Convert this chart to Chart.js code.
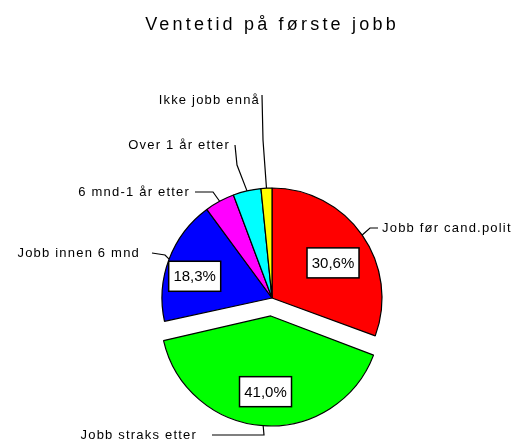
<!DOCTYPE html>
<html>
<head>
<meta charset="utf-8">
<script src="https://cdn.jsdelivr.net/npm/chart.js@4/dist/chart.umd.min.js"></script>
<style>
  html, body { margin: 0; padding: 0; background: #fff; }
  #wrap { width: 518px; height: 443px; }
</style>
</head>
<body>
<div id="wrap"><canvas id="pieChart"></canvas></div>
<script>
// data (percent)
const categories = ['Jobb før cand.polit', 'Jobb straks etter', 'Jobb innen 6 mnd',
                    '6 mnd-1 år etter', 'Over 1 år etter', 'Ikke jobb ennå'];
const shares = [30.6, 41.0, 18.3, 4.4, 4.1, 1.6];
const sliceColors = ['#ff0000', '#00ff00', '#0000ff', '#ff00ff', '#00ffff', '#ffff00'];
const shownPercent = [true, true, true, false, false, false];
const chartTitle = 'Ventetid på første jobb';

// where the outside labels sit and the bends of their leader lines
const labelLayout = [
    { x: 382, y: 228, align: 'left',  line: [[378, 228], [370, 228]] },
    { x: 197, y: 435, align: 'right', line: [[212, 435], [264, 435]] },
    { x: 140, y: 253, align: 'right', line: [[152, 253], [165, 255]] },
    { x: 190, y: 192, align: 'right', line: [[195, 192], [213, 192]] },
    { x: 230, y: 145, align: 'right', line: [[235, 145], [237, 165]] },
    { x: 260, y: 100, align: 'right', line: [[262, 95], [263, 140]] }
];
// percent boxes: fraction of radius and angle nudge (degrees)
const boxLayout = [[0.64, 5], [0.69, 0], [0.73, -5], null, null, null];

const pieRadius = 110;
const pieOffset = 18;

const labelPlugin = {
    id: 'pieLabels',
    // chart.js grows an offset slice a little; keep the exploded slice the same size
    afterDatasetUpdate(chart, args) {
        const offs = chart.data.datasets[args.index].offset;
        args.meta.data.forEach((arc, i) => {
            const o = (offs[i] || 0) / 4;
            if (!o) return;
            const circ = arc.circumference;
            const fix = 1 - Math.sin(Math.min(Math.PI, circ));
            arc.outerRadius = pieRadius - o * fix;
        });
    },
    afterDraw(chart) {
        const ctx = chart.ctx;
        const meta = chart.getDatasetMeta(0);

        // title
        ctx.save();
        ctx.fillStyle = '#000';
        ctx.font = '18px "Liberation Sans", Arial, sans-serif';
        ctx.letterSpacing = '3.2px';
        ctx.textAlign = 'center';
        ctx.textBaseline = 'middle';
        ctx.fillText(chartTitle, 272, 25);
        ctx.restore();

        meta.data.forEach((arc, i) => {
            const p = arc.getProps(['x', 'y', 'startAngle', 'endAngle'], true);
            const mid = (p.startAngle + p.endAngle) / 2;
            const off = (chart.data.datasets[0].offset[i] || 0) / 4;
            const cx = p.x + Math.cos(mid) * off;
            const cy = p.y + Math.sin(mid) * off;
            const r = pieRadius;

            // leader line
            const lay = labelLayout[i];
            ctx.save();
            ctx.strokeStyle = '#000';
            ctx.lineWidth = 1.2;
            ctx.beginPath();
            ctx.moveTo(lay.line[0][0], lay.line[0][1]);
            for (let k = 1; k < lay.line.length; k++) ctx.lineTo(lay.line[k][0], lay.line[k][1]);
            ctx.lineTo(cx + Math.cos(mid) * r, cy + Math.sin(mid) * r);
            ctx.stroke();

            ctx.fillStyle = '#000';
            ctx.font = '13px "Liberation Sans", Arial, sans-serif';
            ctx.letterSpacing = '1.2px';
            ctx.textAlign = lay.align;
            ctx.textBaseline = 'middle';
            ctx.fillText(categories[i], lay.x, lay.y);
            ctx.restore();

            // percent box
            if (shownPercent[i]) {
                const [frac, nudge] = boxLayout[i];
                const a = mid + nudge * Math.PI / 180;
                const bx = cx + Math.cos(a) * r * frac;
                const by = cy + Math.sin(a) * r * frac;
                const w = 52, h = 30;
                ctx.save();
                ctx.fillStyle = '#fff';
                ctx.strokeStyle = '#000';
                ctx.lineWidth = 1.5;
                ctx.fillRect(bx - w / 2, by - h / 2, w, h);
                ctx.strokeRect(bx - w / 2, by - h / 2, w, h);
                ctx.fillStyle = '#000';
                ctx.font = '15px "Liberation Sans", Arial, sans-serif';
                ctx.textAlign = 'center';
                ctx.textBaseline = 'middle';
                ctx.fillText(shares[i].toFixed(1).replace('.', ',') + '%', bx, by + 1);
                ctx.restore();
            }
        });
    }
};

new Chart(document.getElementById('pieChart'), {
    type: 'pie',
    data: {
        labels: categories,
        datasets: [{
            data: shares,
            backgroundColor: sliceColors,
            borderColor: '#000',
            borderWidth: 1.2,
            offset: shares.map((v, i) => i === 1 ? pieOffset * 4 : 0)
        }]
    },
    options: {
        responsive: true,
        maintainAspectRatio: false,
        animation: false,
        radius: pieRadius,
        layout: { padding: { left: 26, right: 0, top: 153, bottom: 0 } },
        plugins: {
            legend: { display: false },
            title: { display: false },
            tooltip: { enabled: false }
        },
        events: []
    },
    plugins: [labelPlugin]
});
</script>
</body>
</html>
